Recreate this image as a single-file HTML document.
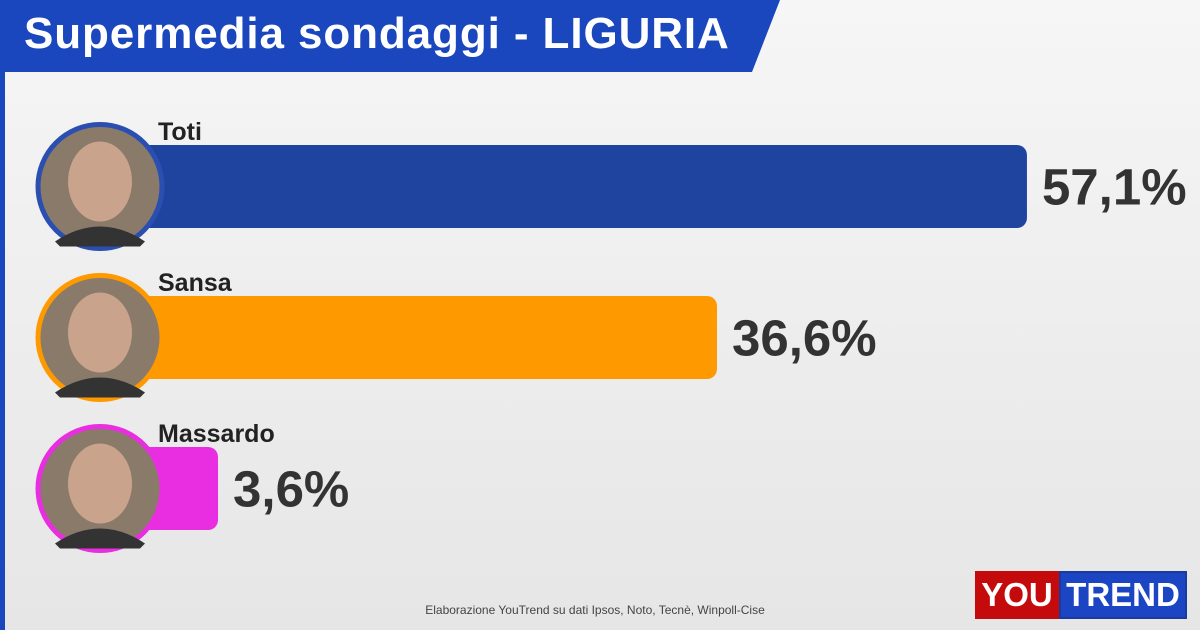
<!DOCTYPE html>
<html><head><meta charset="utf-8"><style>
body{margin:0;width:1200px;height:630px;overflow:hidden;background:#f1f1f1;font-family:"Liberation Sans",sans-serif;position:relative}
#page{position:absolute;left:0;top:0;width:1200px;height:630px;background:linear-gradient(180deg,#f6f6f6 0%,#ececec 60%,#e6e6e6 100%)}
.lstrip{position:absolute;left:0;top:0;width:5px;height:630px;background:#1a47bd}
.hdr{position:absolute;left:0;top:0;width:780px;height:72px;background:#1a47bd;clip-path:polygon(0 0,780px 0,752px 72px,0 72px)}
.hdr h1{margin:0;position:absolute;left:24px;top:9px;color:#fff;font-size:44px;font-weight:bold;letter-spacing:0.9px}
.foot{position:absolute;left:0;width:1190px;text-align:center;top:603px;font-size:12px;color:#444}
.logo{position:absolute;left:975px;top:571px;width:212px;height:48px;display:flex;font-weight:bold;font-size:33px;color:#fff;line-height:48px}
.logo .y{background:#c40a0a;width:84px;text-align:center}
.logo .t{background:#1c45c4;flex:1;text-align:center;border:2px solid #1a3aa0;box-sizing:border-box;line-height:44px}
</style></head><body>
<div id="page"></div>
<div class="lstrip"></div>
<div class="hdr"><h1>Supermedia sondaggi - LIGURIA</h1></div>
<svg id="chart" width="1200" height="630" style="position:absolute;left:0;top:0"></svg>
<div class="foot">Elaborazione YouTrend su dati Ipsos, Noto, Tecnè, Winpoll-Cise</div>
<div class="logo"><div class="y">YOU</div><div class="t">TREND</div></div>
<script>
const candidates=["Toti","Sansa","Massardo"];
const values=[57.1,36.6,3.6];
const labels=["57,1%","36,6%","3,6%"];
const colors=["#1f44a0","#ff9900","#e82ee0"];
const NS="http://www.w3.org/2000/svg";
const svg=document.getElementById('chart');
function x(v){return 163.6+v*15.12;}
function yTop(i){return 145+i*151;}
const barH=83;
function mk(t,a){const e=document.createElementNS(NS,t);for(const k in a)e.setAttribute(k,a[k]);svg.appendChild(e);return e;}
candidates.forEach((c,i)=>{
 const y=yTop(i);
 const b=mk('rect',{x:140,y:y,width:x(values[i])-140,height:barH,rx:10,fill:colors[i]});
 
 
 const v=mk('text',{x:x(values[i])+15,y:y+barH/2+18,'font-size':51,'font-weight':'bold',fill:'#333','font-family':'Liberation Sans, sans-serif'});
 v.textContent=labels[i];
 
 
 const l=mk('text',{x:158,y:y-5,'font-size':25,'font-weight':'bold',fill:'#222','font-family':'Liberation Sans, sans-serif'});
 l.textContent=c;
 
 
 const cy=y+barH/2;
 const ph=mk('circle',{cx:100,cy:cy,r:62,fill:'#8a7a6a',stroke:colors[i]==='#1f44a0'?'#2a4fb0':colors[i],'stroke-width':5});
 
 
 const face=mk('ellipse',{cx:100,cy:cy-5,rx:32,ry:40,fill:'#c9a38c'});
 
 
 const body=mk('path',{d:`M55 ${cy+55} Q100 ${cy+25} 145 ${cy+55} L140 ${cy+60} L60 ${cy+60} Z`,fill:'#333'});
 
 
});
</script>
</body></html>
